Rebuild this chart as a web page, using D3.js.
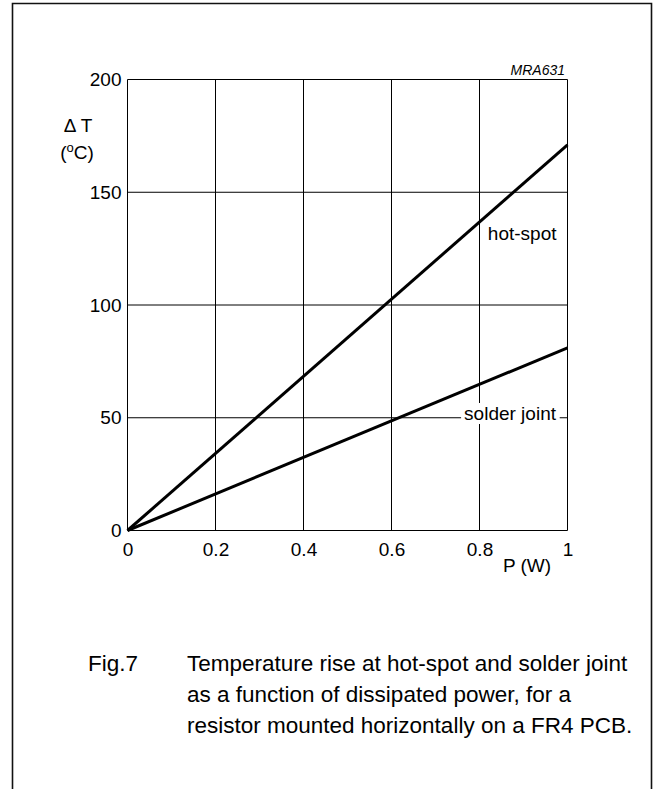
<!DOCTYPE html>
<html>
<head>
<meta charset="utf-8">
<script src="https://cdn.jsdelivr.net/npm/d3@7"></script>
<style>
  html, body { margin: 0; padding: 0; background: #fff; }
  svg { display: block; }
  text { font-family: "Liberation Sans", Arial, Helvetica, sans-serif; fill: #000; }
</style>
</head>
<body>
<svg id="chart" width="655" height="789"></svg>
<script>
// ---- data ----
const power = [0, 1];                 // P (W)
const hotSpot = [0, 171];             // ΔT (°C)
const solderJoint = [0, 81];          // ΔT (°C)
const xTicks = [0, 0.2, 0.4, 0.6, 0.8, 1];
const xTickLabels = ["0", "0.2", "0.4", "0.6", "0.8", "1"];
const yTicks = [0, 50, 100, 150, 200];
const yTickLabels = ["0", "50", "100", "150", "200"];
const captionLines = [
  "Temperature rise at hot-spot and solder joint",
  "as a function of dissipated power, for a",
  "resistor mounted horizontally on a FR4 PCB."
];

const svg = d3.select("#chart");
const FS = 19;

// outer frame (open at bottom)
svg.append("path")
  .attr("d", "M12.5,789 L12.5,3.5 L651.5,3.5 L651.5,789")
  .attr("fill", "none").attr("stroke", "#111").attr("stroke-width", 1.6);

const x = d3.scaleLinear().domain([0, 1]).range([127.5, 567.5]);
const y = d3.scaleLinear().domain([0, 200]).range([530.5, 79.5]);

const g = svg.append("g");

// grid
g.selectAll("line.vg").data(xTicks).join("line")
  .attr("x1", d => x(d)).attr("x2", d => x(d))
  .attr("y1", y(0)).attr("y2", y(200))
  .attr("stroke", "#000").attr("stroke-width", 1);
g.selectAll("line.hg").data(yTicks).join("line")
  .attr("y1", d => y(d)).attr("y2", d => y(d))
  .attr("x1", x(0)).attr("x2", x(1))
  .attr("stroke", "#000").attr("stroke-width", 1);

// axes tick labels via d3 axes
const xAxis = d3.axisBottom(x).tickValues(xTicks)
  .tickFormat((d, i) => xTickLabels[i]).tickSize(0).tickPadding(12);
const gx = svg.append("g").attr("transform", `translate(0,${y(0)})`).call(xAxis);
gx.select(".domain").remove();
gx.selectAll("text").attr("font-size", FS).attr("font-family", "Liberation Sans, Arial, sans-serif").attr("fill", "#000");

const yAxis = d3.axisLeft(y).tickValues(yTicks)
  .tickFormat((d, i) => yTickLabels[i]).tickSize(0).tickPadding(6);
const gy = svg.append("g").attr("transform", `translate(${x(0)},0)`).call(yAxis);
gy.select(".domain").remove();
gy.selectAll("text").attr("font-size", FS).attr("font-family", "Liberation Sans, Arial, sans-serif").attr("fill", "#000");

// labels with white background
function boxedLabel(txt, px, py) {
  const t = g.append("text").attr("x", x(px)).attr("y", y(py))
    .attr("font-size", FS).text(txt);
  const b = t.node().getBBox();
  g.insert("rect", "text")
    .attr("x", b.x - 3).attr("y", b.y).attr("width", b.width + 6).attr("height", b.height)
    .attr("fill", "#fff");
  t.raise();
}

// data lines
const lineGen = d3.line().x(d => x(d[0])).y(d => y(d[1]));
[hotSpot, solderJoint].forEach(s => {
  g.append("path")
    .attr("d", lineGen(power.map((p, i) => [p, s[i]])))
    .attr("fill", "none").attr("stroke", "#000").attr("stroke-width", 3);
});

boxedLabel("hot-spot", 0.819, 129);
boxedLabel("solder joint", 0.765, 49);

// axis titles
svg.append("text").attr("x", 78).attr("y", 132).attr("text-anchor", "middle")
  .attr("font-size", FS).text("\u0394 T");
const ct = svg.append("text").attr("x", 77).attr("y", 159).attr("text-anchor", "middle")
  .attr("font-size", FS);
ct.append("tspan").text("(");
ct.append("tspan").attr("font-size", 13).attr("dy", -7).text("o");
ct.append("tspan").attr("dy", 7).text("C)");

svg.append("text").attr("x", 527).attr("y", 572).attr("text-anchor", "middle")
  .attr("font-size", FS).text("P (W)");

svg.append("text").attr("x", 565).attr("y", 75).attr("text-anchor", "end")
  .attr("font-size", 14).attr("font-style", "italic").text("MRA631");

// caption
svg.append("text").attr("x", 88).attr("y", 671).attr("font-size", 22.5).text("Fig.7");
svg.selectAll("text.cap").data(captionLines).join("text")
  .attr("class", "cap")
  .attr("x", 187).attr("y", (d, i) => 671 + i * 31)
  .attr("font-size", 22.5).text(d => d);
</script>
</body>
</html>
